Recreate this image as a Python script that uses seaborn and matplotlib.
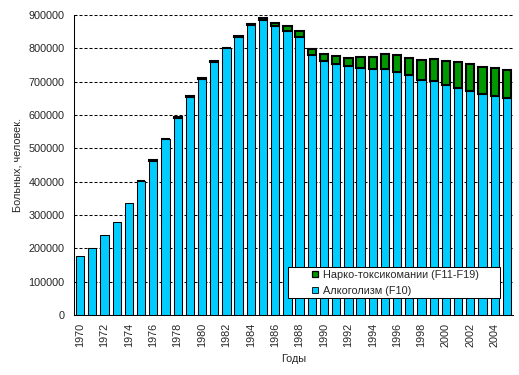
import numpy as np
import pandas as pd
import matplotlib
matplotlib.use("Agg")
import matplotlib.pyplot as plt
import seaborn as sns
from matplotlib.lines import Line2D

years = list(range(1970, 2006))
alcohol = [177000, 200000, 240000, 279000, 336000, 402000, 463000, 528000, 592000, 655000,
           709000, 760000, 800000, 833000, 870000, 885000, 866000, 853000, 835000, 780000,
           763000, 753000, 747000, 741000, 738000, 738000, 730000, 719000, 705000, 703000,
           691000, 681000, 672000, 662000, 658000, 652000]
narco = [0, 0, 0, 0, 0, 1000, 1000, 1000, 3000, 3000,
         3000, 1000, 1000, 4000, 3000, 6000, 10000, 14000, 17000, 17000,
         21000, 25000, 25000, 34000, 37000, 46000, 51000, 53000, 61000, 66000,
         72000, 79000, 82000, 83000, 84000, 84000]
label_alc = "Алкоголизм (F10)"
label_narco = "Нарко-токсикомании (F11-F19)"
yticks = list(range(0, 900001, 100000))

FS = 7.8
sns.set_style("white")
plt.rcParams['font.family'] = ['Liberation Sans', 'DejaVu Sans']
plt.rcParams['font.size'] = FS

fig = plt.figure(figsize=(5.19, 3.75), dpi=100)
ax = fig.add_axes([74/519, 1-315/375, 439/519, 300/375])

ystr = [str(y) for y in years]
df = pd.DataFrame({"year": ystr, "alc": alcohol, "narco": narco})
mask = df["narco"] > 0

sns.barplot(data=df, x="year", y="alc", order=ystr, color="#00CCFF", saturation=1,
            edgecolor="black", linewidth=0.75, width=0.68, errorbar=None, ax=ax, zorder=2)
sub = df[mask]
sns.barplot(data=sub, x="year", y="narco", order=ystr, color="#009900", saturation=1,
            edgecolor="black", linewidth=1.5, width=0.68, errorbar=None, ax=ax,
            bottom=sub["alc"].values, zorder=3)

ax.set_xlim(-0.5, len(years) - 0.5)
ax.set_ylim(0, 900000)
ax.set_yticks(yticks)
ax.set_yticklabels([str(v) for v in yticks])
ax.yaxis.grid(True, color="black", linestyle=(0, (2.9, 1.9)), linewidth=0.75)
ax.xaxis.grid(False)
ax.set_axisbelow(True)

ax.set_xticks(range(0, len(years), 2))
ax.set_xticklabels([ystr[i] for i in range(0, len(years), 2)], rotation=90)
ax.set_xticks(np.arange(-0.5, len(years), 1), minor=True)
ax.tick_params(axis="x", which="major", length=0, pad=5.5, labelsize=FS)
ax.tick_params(axis="x", which="minor", length=2.2, width=0.75, color="black", direction="out")
ax.tick_params(axis="y", which="major", length=4.3, width=0.75, color="black", direction="out",
               pad=2.5, labelsize=FS)

for s in ["top", "right"]:
    ax.spines[s].set_visible(False)
for s in ["left", "bottom"]:
    ax.spines[s].set_color("black")
    ax.spines[s].set_linewidth(0.75)

ax.set_xlabel("Годы", fontsize=FS, labelpad=5)
ax.set_ylabel("Больных, человек.", fontsize=FS, labelpad=4)

handles = [
    Line2D([], [], marker="s", linestyle="none", markersize=4.5, markerfacecolor="#009900",
           markeredgecolor="black", markeredgewidth=0.9),
    Line2D([], [], marker="s", linestyle="none", markersize=4.5, markerfacecolor="#00CCFF",
           markeredgecolor="black", markeredgewidth=0.6),
]
leg = ax.legend(handles, [label_narco, label_alc], loc="lower left",
                bbox_to_anchor=(0.4875, 0.0557, 0.4825, 0.118), mode="expand",
                frameon=True, fancybox=False, shadow=False, framealpha=1,
                edgecolor="black", fontsize=FS, borderpad=0.25, labelspacing=0.5,
                handlelength=4.45, handletextpad=-1.5, borderaxespad=0)
leg.get_frame().set_linewidth(0.75)
leg.set_zorder(10)

fig.savefig("out.png", dpi=100)
